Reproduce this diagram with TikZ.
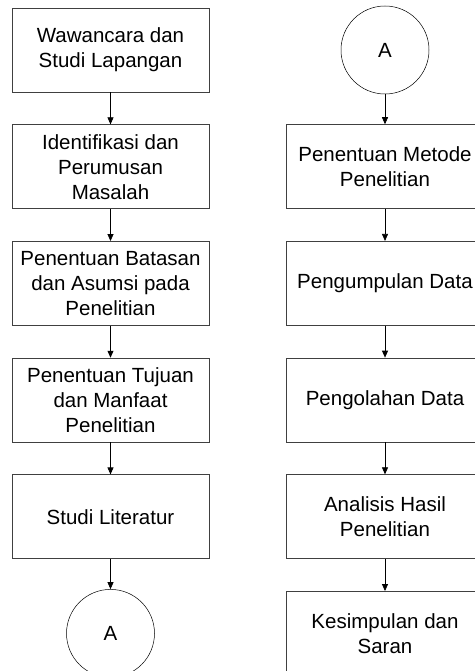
\documentclass[tikz,border=0pt]{standalone}
\usepackage{fontspec}
\setmainfont{Liberation Sans}
\usetikzlibrary{arrows.meta,positioning}

\begin{document}
\begin{tikzpicture}[
  x=1pt, y=1pt,
  font=\fontsize{20.5}{25}\selectfont,
  box/.style={draw=black!75, line width=0.7pt, minimum width=197pt,
              minimum height=84pt, align=center, inner sep=2pt},
  conn/.style={circle, draw=black, line width=0.5pt, minimum size=88pt, inner sep=0pt},
  arr/.style={-{Triangle[length=7pt, width=6pt]}, draw=black, line width=0.7pt}
]
\useasboundingbox (0,0) rectangle (474,-671);

% Left column
\node[box] (wawancara) at (110.5,-50) {Wawancara dan\\Studi Lapangan};
\node[box, below=32pt of wawancara] (identifikasi) {Identifikasi dan\\Perumusan\\Masalah};
\node[box, below=32pt of identifikasi] (batasan) {Penentuan Batasan\\dan Asumsi pada\\Penelitian};
\node[box, below=32pt of batasan] (tujuan) {Penentuan Tujuan\\dan Manfaat\\Penelitian};
\node[box, below=32pt of tujuan] (literatur) {Studi Literatur};
\node[conn, below=30pt of literatur] (offA) {A};

% Right column
\node[conn] (onA) at (385,-50) {A};
\node[box, below=30pt of onA] (metode) {Penentuan Metode\\Penelitian};
\node[box, below=32pt of metode] (pengumpulan) {Pengumpulan Data};
\node[box, below=32pt of pengumpulan] (pengolahan) {Pengolahan Data};
\node[box, below=32pt of pengolahan] (analisis) {Analisis Hasil\\Penelitian};
\node[box, below=32pt of analisis] (kesimpulan) {Kesimpulan dan\\Saran};

% Edges
\foreach \a/\b in {wawancara/identifikasi, identifikasi/batasan, batasan/tujuan,
                   tujuan/literatur, literatur/offA,
                   onA/metode, metode/pengumpulan, pengumpulan/pengolahan,
                   pengolahan/analisis, analisis/kesimpulan}
  \draw[arr] (\a.south) -- (\b.north);
\end{tikzpicture}
\end{document}
